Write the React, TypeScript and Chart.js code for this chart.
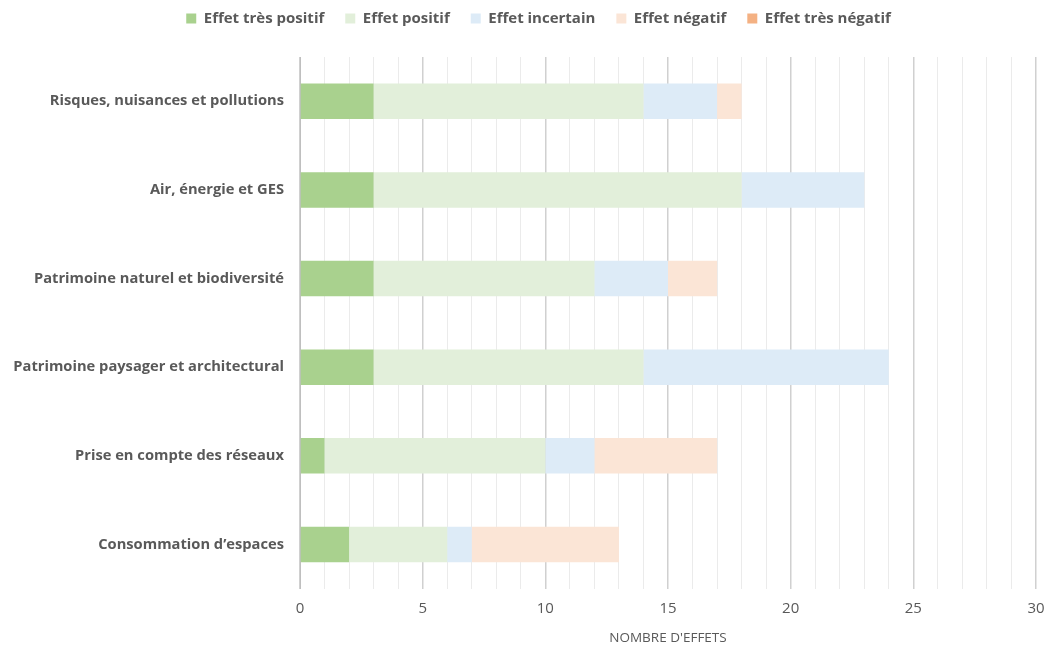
import React, { useEffect, useRef } from "react";
import { Chart, registerables } from "chart.js";

Chart.register(...registerables);

const categories = [
  "Risques, nuisances et pollutions",
  "Air, énergie et GES",
  "Patrimoine naturel et biodiversité",
  "Patrimoine paysager et architectural",
  "Prise en compte des réseaux",
  "Consommation d’espaces",
];

const seriesNames = [
  "Effet très positif",
  "Effet positif",
  "Effet incertain",
  "Effet négatif",
  "Effet très négatif",
];

const tresPositif = [3, 3, 3, 3, 1, 2];
const positif = [11, 15, 9, 11, 9, 4];
const incertain = [3, 5, 3, 10, 2, 1];
const negatif = [1, 0, 2, 0, 5, 6];
const tresNegatif = [0, 0, 0, 0, 0, 0];

const colors = ["#A9D18E", "#E2EFDA", "#DDEBF7", "#FBE5D6", "#F4B183"];

const xMin = 0;
const xMax = 30;
const axisTitle = "NOMBRE D'EFFETS";

const FONT = "'Open Sans', 'Liberation Sans', Arial, sans-serif";
const GREY = "#595959";

const legendSpacer = {
  id: "legendSpacer",
  beforeInit(chart: any) {
    const legend = chart.legend;
    if (!legend) return;
    const origFit = legend.fit;
    legend.fit = function () {
      origFit.call(this);
      this.height += 21;
    };
  },
  afterLayout(chart: any) {
    const legend = chart.legend;
    if (!legend) return;
    legend.left += 12;
    legend.right += 12;
  },
};

export default function App() {
  const ref = useRef<HTMLCanvasElement | null>(null);

  useEffect(() => {
    if (!ref.current) return;
    document.documentElement.style.overflow = "hidden";
    const values = [tresPositif, positif, incertain, negatif, tresNegatif];
    const chart = new Chart(ref.current, {
      type: "bar",
      data: {
        labels: categories,
        datasets: seriesNames.map((name, i) => ({
          label: name,
          data: values[i],
          backgroundColor: colors[i],
          borderWidth: 0,
          barPercentage: 0.4,
          categoryPercentage: 1,
        })),
      },
      plugins: [legendSpacer],
      options: {
        indexAxis: "y",
        animation: false,
        responsive: false,
        layout: { padding: { top: -18, right: 0, bottom: 0, left: 0 } },
        plugins: {
          legend: {
            position: "top",
            labels: {
              boxWidth: 10,
              boxHeight: 10,
              padding: 21,
              color: GREY,
              font: { family: FONT, size: 15, weight: "bold" },
            },
          },
          tooltip: { enabled: false },
        },
        scales: {
          x: {
            stacked: true,
            min: xMin,
            max: xMax,
            ticks: {
              stepSize: 1,
              autoSkip: false,
              maxRotation: 0,
              color: GREY,
              padding: 11,
              font: { family: FONT, size: 15 },
              callback: (v: any) => (Number(v) % 5 === 0 ? String(v) : ""),
            },
            grid: {
              drawTicks: false,
              color: (ctx: any) =>
                ctx.tick && ctx.tick.value % 5 === 0 ? "#D0D0D0" : "#EBEBEB",
              lineWidth: (ctx: any) =>
                ctx.tick && ctx.tick.value % 5 === 0 ? 1.5 : 1,
            },
            border: { display: false },
            title: {
              display: true,
              text: axisTitle,
              color: GREY,
              font: { family: FONT, size: 13.5 },
              padding: { top: 1, bottom: 4 },
            },
            afterFit: (s: any) => {
              s.paddingRight = 9;
            },
          },
          y: {
            stacked: true,
            ticks: {
              color: GREY,
              padding: 16,
              font: { family: FONT, size: 14.7, weight: "bold" },
            },
            grid: { display: false, drawTicks: false },
            border: { display: true, color: "#BFBFBF", width: 1 },
            afterFit: (s: any) => {
              s.width = 292;
            },
          },
        },
      },
    });
    return () => chart.destroy();
  }, []);

  return (
    <div style={{ width: 1037, height: 642, marginBottom: -8 }}>
      <canvas ref={ref} width={1037} height={642} style={{ display: "block" }} />
    </div>
  );
}
